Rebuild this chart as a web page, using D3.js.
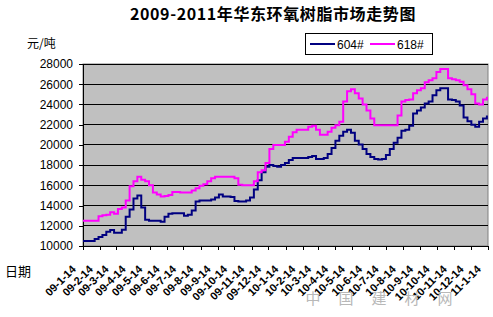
<!DOCTYPE html>
<html>
<head>
<meta charset="utf-8">
<script src="https://cdn.jsdelivr.net/npm/d3@7"></script>
<style>
  body { margin: 0; background: #fff; }
  svg { display: block; }
  text { font-family: "Liberation Sans", Arial, sans-serif; }
</style>
</head>
<body>
<div id="chart"></div>
<script>
// weekly prices, yuan per ton, starting 2009-01-14
const series604 = [
  10500, 10500, 10500, 10700, 10900, 11100, 11400, 11580, 11300, 11300,
  11600, 12900, 13600, 14700, 15000, 13800, 12600, 12500, 12500, 12500,
  12400, 12900, 13200, 13250, 13250, 13250, 13000, 13100, 13500, 14400,
  14500, 14500, 14500, 14600, 14800, 15100, 14900, 14900, 14850, 14450,
  14400, 14400, 14500, 14800, 15600, 16500, 17300, 17850, 18000, 17900,
  17850, 18000, 18200, 18500, 18700, 18700, 18700, 18700, 18800, 18900,
  18600, 18600, 18700, 19100, 19700, 20400, 20900, 21300, 21500, 21200,
  20400, 20050, 19600, 19100, 18800, 18600, 18550, 18600, 19000, 19600,
  20200, 20700, 21400, 21500, 21900, 23100, 23400, 23700, 24100, 24300,
  24900, 25400, 25600, 25600, 24500, 24450, 24300, 23900, 22700, 22350,
  22000, 21800, 22300, 22600, 22900
];
const series618 = [
  12500, 12500, 12500, 12500, 12950, 13050, 13100, 13350, 13200, 13650,
  13800, 14500, 15900, 16400, 16850, 16550, 16400, 16000, 15300, 15100,
  14900, 14950, 15050, 15350, 15350, 15300, 15300, 15300, 15500, 15700,
  15950, 16100, 16400, 16700, 16850, 16850, 16850, 16850, 16850, 16700,
  16050, 16000, 16000, 16000, 16400, 17300, 17500, 18200, 19600, 20000,
  20000, 20000, 20300, 20800, 21250, 21500, 21500, 21500, 21800, 21900,
  21500, 21000, 21000, 21300, 21700, 21950, 22300, 24300, 25300, 25500,
  25100, 24600, 24000, 23400, 22600, 21950, 21950, 21950, 21950, 21950,
  21950, 22900, 24300, 24450, 24500, 25100, 25400, 25600, 26200, 26400,
  26600, 27200, 27500, 27500, 26600, 26500, 26400, 26250, 25900, 25500,
  25000, 24100, 24000, 24500, 24750
];
const seriesNames = ['604#', '618#'];
const tickLabels = [
  '09-1-14', '09-2-14', '09-3-14', '09-4-14', '09-5-14', '09-6-14', '09-7-14',
  '09-8-14', '09-9-14', '09-10-14', '09-11-14', '09-12-14',
  '10-1-14', '10-2-14', '10-3-14', '10-4-14', '10-5-14', '10-6-14', '10-7-14',
  '10-8-14', '10-9-14', '10-10-14', '10-11-14', '10-12-14', '11-1-14'
];
const yTicks = [10000, 12000, 14000, 16000, 18000, 20000, 22000, 24000, 26000, 28000];

const width = 493, height = 317;
const margin = { top: 64, right: 5, bottom: 71, left: 83 };

const svg = d3.select('#chart').append('svg')
  .attr('width', width)
  .attr('height', height);

const startDate = new Date(2009, 0, 14);
const weekDate = i => d3.timeDay.offset(startDate, 7 * i);
const tickDates = tickLabels.map((d, i) => new Date(2009, i, 14));

const x = d3.scaleTime()
  .domain([tickDates[0], tickDates[tickDates.length - 1]])
  .range([margin.left, width - margin.right]);
const y = d3.scaleLinear()
  .domain([10000, 28000])
  .range([height - margin.bottom, margin.top]);

// plot area
svg.append('rect')
  .attr('x', margin.left)
  .attr('y', margin.top)
  .attr('width', width - margin.left - margin.right)
  .attr('height', height - margin.top - margin.bottom)
  .attr('fill', '#c0c0c0')
  .attr('stroke', '#808080');

// grid lines
svg.append('g')
  .selectAll('line')
  .data(yTicks.slice(1))
  .join('line')
  .attr('x1', margin.left)
  .attr('x2', width - margin.right)
  .attr('y1', d => y(d))
  .attr('y2', d => y(d))
  .attr('stroke', '#000')
  .attr('shape-rendering', 'crispEdges');

// y axis
const yAxis = svg.append('g')
  .attr('transform', 'translate(' + margin.left + ',0)')
  .call(d3.axisLeft(y).tickValues(yTicks).tickSize(4).tickPadding(6).tickFormat(d3.format('d')));
yAxis.selectAll('text')
  .attr('font-size', 12)
  .attr('font-family', '"Liberation Sans", Arial, sans-serif')
  .attr('fill', '#000');
yAxis.selectAll('line, path').attr('stroke', '#000').attr('shape-rendering', 'crispEdges');

// x axis
const xAxis = svg.append('g')
  .attr('transform', 'translate(0,' + (height - margin.bottom) + ')')
  .call(d3.axisBottom(x).tickValues(tickDates).tickSize(4).tickSizeOuter(0)
    .tickFormat((d, i) => tickLabels[i]));
xAxis.selectAll('line, path').attr('stroke', '#000').attr('shape-rendering', 'crispEdges');
xAxis.selectAll('text')
  .attr('font-size', 11)
  .attr('font-weight', 'bold')
  .attr('font-family', '"Liberation Sans", Arial, sans-serif')
  .attr('fill', '#000')
  .attr('text-anchor', 'end')
  .attr('y', 0)
  .attr('dy', 0)
  .attr('transform', 'translate(-7,24) rotate(-45)');

// lines
const line = d3.line()
  .x((d, i) => x(weekDate(i)))
  .y(d => y(d))
  .curve(d3.curveStepAfter);

const colors = ['#000080', '#ff00ff'];
[series604, series618].forEach((s, k) => {
  svg.append('path')
    .datum(s)
    .attr('fill', 'none')
    .attr('stroke', colors[k])
    .attr('stroke-width', 2)
    .attr('d', line);
});

// title and axis captions
svg.append('text')
  .attr('x', 273)
  .attr('y', 20)
  .attr('text-anchor', 'middle')
  .attr('font-size', 16)
  .attr('font-weight', 'bold')
  .attr('letter-spacing', 0.6)
  .style('font-family', '"Noto Sans CJK SC", sans-serif')
  .text('2009-2011年华东环氧树脂市场走势图');

svg.append('text')
  .attr('x', 27)
  .attr('y', 48)
  .attr('font-size', 12)
  .style('font-family', '"Noto Sans CJK SC", sans-serif')
  .text('元/吨');

svg.append('text')
  .attr('x', 5)
  .attr('y', 276)
  .attr('font-size', 13)
  .style('font-family', '"Noto Sans CJK SC", sans-serif')
  .text('日期');

// legend
const legend = svg.append('g');
legend.append('rect')
  .attr('x', 305.5).attr('y', 33.5)
  .attr('width', 127).attr('height', 21)
  .attr('fill', '#fff').attr('stroke', '#000');
seriesNames.forEach((name, k) => {
  const lx = 310 + k * 60;
  legend.append('line')
    .attr('x1', lx).attr('x2', lx + 25)
    .attr('y1', 44).attr('y2', 44)
    .attr('stroke', colors[k]).attr('stroke-width', 2);
  legend.append('text')
    .attr('x', lx + 27).attr('y', 48.5)
    .attr('font-size', 12)
    .text(name);
});

// watermark
svg.append('text')
  .attr('x', 388)
  .attr('y', 304)
  .attr('text-anchor', 'middle')
  .attr('font-size', 15)
  .attr('fill', '#b8b8b8')
  .attr('letter-spacing', 18)
  .style('font-family', '"Noto Sans CJK SC", sans-serif')
  .text('中国建材网');
</script>
</body>
</html>
